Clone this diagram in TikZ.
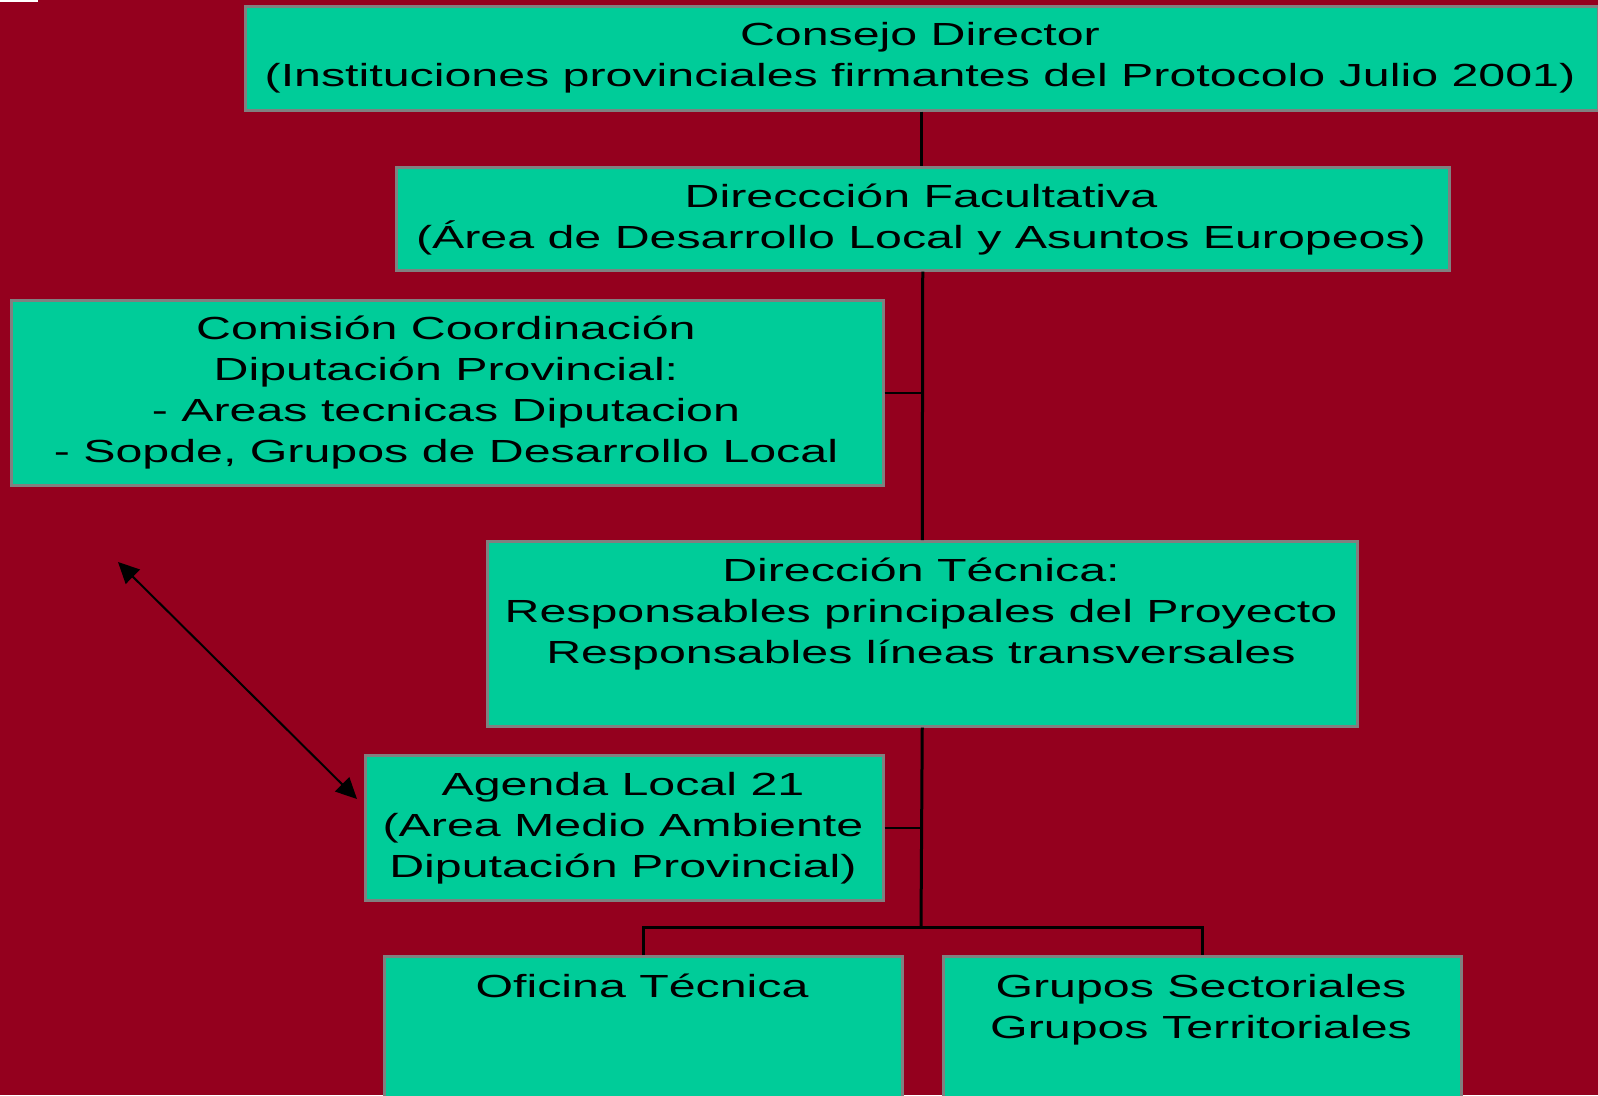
\documentclass[tikz,border=0pt]{standalone}
\usepackage{fontspec}
\setmainfont{Liberation Sans}[FakeStretch=1.51]
\usetikzlibrary{arrows.meta}
\definecolor{bgred}{RGB}{148,0,30}
\definecolor{boxteal}{RGB}{0,204,153}
\definecolor{boxgray}{RGB}{128,128,128}
\begin{document}
\begin{tikzpicture}[x=1pt,y=-1pt,
  box/.style={draw=boxgray, line width=2.5pt, fill=boxteal, inner sep=0pt, anchor=north west},
  txt/.style={font=\fontsize{32}{41}\selectfont, align=center, text=black, inner sep=0pt},
  conn/.style={draw=black, line width=3pt},
  stub/.style={draw=black, line width=2.5pt},
  dblarrow/.style={draw=black, line width=2pt, {Triangle[length=21pt,width=20pt]}-{Triangle[length=21pt,width=20pt]}},
]
\useasboundingbox (0,0) rectangle (1598,1095);
\clip (0,0) rectangle (1598,1095);
\fill[bgred] (0,0) rectangle (1598,1095);
\fill[white] (0,0) rectangle (38,1.5);

% boxes
\node[box, minimum width=1353pt, minimum height=104pt] (consejo) at (244,5) {};
\node[box, minimum width=1053pt, minimum height=103pt] (facultativa) at (395,166) {};
\node[box, minimum width=872pt, minimum height=185pt] (comision) at (10,299) {};
\node[box, minimum width=870pt, minimum height=185pt] (tecnica) at (486,540) {};
\node[box, minimum width=518pt, minimum height=145pt] (agenda) at (364,754) {};
\node[box, minimum width=518pt, minimum height=200pt] (oficina) at (383,955) {};
\node[box, minimum width=518pt, minimum height=200pt] (grupos) at (942,955) {};

% texts
\node[txt] (tconsejo) at (920,58) {Consejo Director\\(Instituciones provinciales firmantes del Protocolo Julio 2001)};
\node[txt] (tfacultativa) at (921,220) {Direccción Facultativa\\(Área de Desarrollo Local y Asuntos Europeos)};
\node[txt] (tcomision) at (446,393) {Comisión Coordinación\\Diputación Provincial:\\- Areas tecnicas Diputacion\\- Sopde, Grupos de Desarrollo Local};
\node[txt] (ttecnica) at (921,614) {Dirección Técnica:\\Responsables principales del Proyecto\\Responsables líneas transversales};
\node[txt] (tagenda) at (623,828) {Agenda Local 21\\(Area Medio Ambiente\\Diputación Provincial)};
\node[txt] (toficina) at (642,986) {Oficina Técnica};
\node[txt] (tgrupos) at (1201,1010) {Grupos Sectoriales\\Grupos Territoriales};

% connectors
\coordinate (bus) at (921,927);
\draw[conn] (consejo.south) -- (consejo.south |- facultativa.north);
\draw[conn] (facultativa.south) -- (tecnica.north);
\draw[conn] (tecnica.south) -- (bus);
\draw[conn] (oficina.north) -- (oficina.north |- bus) -- (grupos.north |- bus) -- (grupos.north);
\draw[stub] (comision.east) -- (comision.east -| facultativa.south);
\draw[stub] (agenda.east) -- (agenda.east -| tecnica.south);

% double arrow
\coordinate (arrA) at (118,562);
\coordinate (arrB) at (357,799);
\draw[dblarrow] (arrA) -- (arrB);
\end{tikzpicture}
\end{document}
